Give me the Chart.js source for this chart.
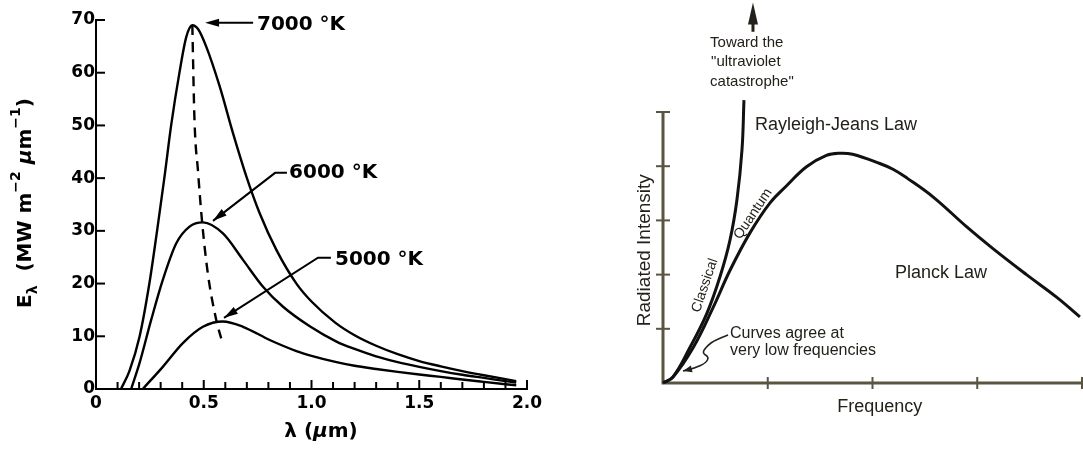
<!DOCTYPE html>
<html>

<head>
    <meta charset="UTF-8">
    <title>Blackbody radiation curves</title>
    <script src="https://cdn.jsdelivr.net/npm/chart.js"></script>
    <style>
        html, body {
            margin: 0;
            padding: 0;
            background: #ffffff;
        }

        body {
            width: 1083px;
            height: 449px;
            position: relative;
            overflow: hidden;
        }

        /* two panels side by side */
        #leftBox {
            position: absolute;
            left: 0;
            top: 0;
        }

        #rightBox {
            position: absolute;
            left: 583px;
            top: 0;
        }
    </style>
</head>

<body>
    <div id="leftBox"><canvas id="leftChart" width="560" height="449"></canvas></div>
    <div id="rightBox"><canvas id="rightChart" width="500" height="449"></canvas></div>

    <script>
        // ---- left panel: spectral exitance E_lambda (MW m^-2 um^-1) vs wavelength (um)
        var lam7000 = [0.116, 0.155, 0.202, 0.248, 0.284, 0.318, 0.349, 0.388, 0.419, 0.447, 0.475, 0.512, 0.574, 0.636, 0.698, 0.76, 0.837, 0.93, 1.0, 1.11, 1.2, 1.3, 1.4, 1.5, 1.6, 1.7, 1.8, 1.95];
        var e7000 = [0, 3.4, 9.9, 20.1, 30.2, 40.3, 50.1, 60.2, 66.8, 69.0, 68.2, 64.9, 57.4, 48.5, 40.3, 33.3, 26.4, 20.0, 16.6, 12.6, 10.2, 8.2, 6.6, 5.3, 4.3, 3.4, 2.6, 1.5];

        var lam6000 = [0.163, 0.202, 0.256, 0.31, 0.372, 0.434, 0.496, 0.589, 0.682, 0.775, 0.868, 0.992, 1.116, 1.2, 1.3, 1.4, 1.5, 1.6, 1.7, 1.8, 1.95];
        var e6000 = [0, 4.9, 13.1, 20.7, 27.6, 30.8, 31.6, 29.5, 24.5, 19.4, 15.6, 11.9, 9.0, 7.6, 6.2, 5.1, 4.2, 3.4, 2.7, 2.1, 1.2];

        var lam5000 = [0.217, 0.31, 0.403, 0.496, 0.589, 0.682, 0.806, 0.93, 1.0, 1.116, 1.2, 1.3, 1.4, 1.5, 1.6, 1.7, 1.8, 1.95];
        var e5000 = [0, 4.2, 8.7, 11.8, 12.8, 11.8, 9.3, 7.2, 6.3, 5.1, 4.4, 3.8, 3.25, 2.75, 2.3, 1.8, 1.35, 0.7];

        // dashed line through the peaks
        var peakLam = [0.447, 0.457, 0.473, 0.493, 0.519, 0.558, 0.581];
        var peakE = [69.0, 51.0, 41.5, 31.4, 21.9, 13.1, 9.6];

        var xTickValues = [0, 0.5, 1.0, 1.5, 2.0];
        var xTickLabels = ['0', '0.5', '1.0', '1.5', '2.0'];
        var tempLabels = ['7000 °K', '6000 °K', '5000 °K'];

        // ---- right panel: radiated intensity vs frequency (arbitrary units)
        var freqPlanck = [0, 0.095, 0.29, 0.48, 0.64, 0.83, 1.02, 1.18, 1.37, 1.56, 1.69, 1.81, 2.07, 2.2, 2.33, 2.58, 2.9, 3.15, 3.47, 3.76, 3.98];
        var intPlanck = [0, 0.11, 0.66, 1.4, 2.08, 2.77, 3.32, 3.64, 3.99, 4.2, 4.24, 4.22, 4.05, 3.94, 3.78, 3.43, 2.88, 2.48, 2.0, 1.58, 1.22];

        var freqRJ = [0, 0.095, 0.258, 0.42, 0.544, 0.64, 0.706, 0.754, 0.773];
        var intRJ = [0, 0.11, 0.66, 1.29, 1.96, 2.64, 3.38, 4.3, 5.22];

        function pairs(xs, ys) {
            var out = [];
            for (var i = 0; i < xs.length; i++) {
                out.push({ x: xs[i], y: ys[i] });
            }
            return out;
        }

        function arrowHead(ctx, x0, y0, x1, y1, len, half) {
            var a = Math.atan2(y1 - y0, x1 - x0);
            ctx.beginPath();
            ctx.moveTo(x1, y1);
            ctx.lineTo(x1 - len * Math.cos(a) + half * Math.sin(a), y1 - len * Math.sin(a) - half * Math.cos(a));
            ctx.lineTo(x1 - len * Math.cos(a) - half * Math.sin(a), y1 - len * Math.sin(a) + half * Math.cos(a));
            ctx.closePath();
            ctx.fill();
        }

        // text made of pieces, for sub/superscripts
        function drawRich(ctx, parts, cx, cy, angle) {
            ctx.save();
            ctx.translate(cx, cy);
            ctx.rotate(angle);
            ctx.textAlign = 'left';
            ctx.textBaseline = 'middle';
            var total = 0;
            parts.forEach(function (p) {
                ctx.font = p.font;
                total += ctx.measureText(p.t).width;
            });
            var xx = -total / 2;
            parts.forEach(function (p) {
                ctx.font = p.font;
                ctx.fillText(p.t, xx, p.dy || 0);
                xx += ctx.measureText(p.t).width;
            });
            ctx.restore();
        }

        var LF = 'DejaVu Sans';
        var RF = 'Liberation Sans';

        var leftDecor = {
            id: 'leftDecor',
            afterDraw: function (chart) {
                var ctx = chart.ctx;
                var x = chart.scales.x, y = chart.scales.y;
                var area = chart.chartArea;
                ctx.save();
                ctx.strokeStyle = '#000';
                ctx.fillStyle = '#000';
                ctx.lineWidth = 2;

                // inward tick marks
                x.ticks.forEach(function (t) {
                    if (t.value === 0) return;
                    var px = x.getPixelForValue(t.value);
                    var major = Math.abs(t.value * 2 - Math.round(t.value * 2)) < 1e-6;
                    ctx.beginPath();
                    ctx.moveTo(px, area.bottom);
                    ctx.lineTo(px, area.bottom - (major ? 9 : 7));
                    ctx.stroke();
                });
                y.ticks.forEach(function (t) {
                    if (t.value === 0) return;
                    var py = y.getPixelForValue(t.value);
                    ctx.beginPath();
                    ctx.moveTo(area.left, py);
                    ctx.lineTo(area.left + 9, py);
                    ctx.stroke();
                });

                function P(lx, ly) {
                    return [x.getPixelForValue(lx), y.getPixelForValue(ly)];
                }

                ctx.lineWidth = 2;
                // 7000 K label with arrow pointing at the peak
                var a0 = P(0.729, 69.5), a1 = P(0.506, 69.5);
                ctx.beginPath();
                ctx.moveTo(a0[0], a0[1]);
                ctx.lineTo(a1[0] + 8, a1[1]);
                ctx.stroke();
                arrowHead(ctx, a0[0], a0[1], a1[0], a1[1], 14, 4);

                // 6000 K leader
                var b0 = P(0.886, 41.0), b1 = P(0.831, 41.0), b2 = P(0.543, 31.9);
                ctx.beginPath();
                ctx.moveTo(b0[0], b0[1]);
                ctx.lineTo(b1[0], b1[1]);
                ctx.lineTo(b2[0], b2[1]);
                ctx.stroke();
                arrowHead(ctx, b1[0], b1[1], b2[0], b2[1], 14, 4);

                // 5000 K leader
                var c0 = P(1.09, 24.9), c1 = P(1.03, 24.9), c2 = P(0.594, 13.5);
                ctx.beginPath();
                ctx.moveTo(c0[0], c0[1]);
                ctx.lineTo(c1[0], c1[1]);
                ctx.lineTo(c2[0], c2[1]);
                ctx.stroke();
                arrowHead(ctx, c1[0], c1[1], c2[0], c2[1], 14, 4);

                ctx.font = 'bold 20px "' + LF + '"';
                ctx.textAlign = 'left';
                ctx.textBaseline = 'middle';
                var t7 = P(0.747, 69.1), t6 = P(0.896, 41.0), t5 = P(1.109, 24.5);
                ctx.fillText(tempLabels[0], t7[0], t7[1]);
                ctx.fillText(tempLabels[1], t6[0], t6[1]);
                ctx.fillText(tempLabels[2], t5[0], t5[1]);

                // axis titles
                var big = 'bold 20px "' + LF + '"', small = 'bold 14px "' + LF + '"';
                drawRich(ctx, [
                    { t: 'λ', font: big },
                    { t: ' (', font: big },
                    { t: 'μ', font: 'bold italic 20px "' + LF + '"' },
                    { t: 'm)', font: big }
                ], 321, 432, 0);

                drawRich(ctx, [
                    { t: 'E', font: big },
                    { t: 'λ', font: small, dy: 7 },
                    { t: '  (MW m', font: big },
                    { t: '−2', font: small, dy: -10 },
                    { t: ' ', font: big },
                    { t: 'μ', font: 'bold italic 20px "' + LF + '"' },
                    { t: 'm', font: big },
                    { t: '−1', font: small, dy: -10 },
                    { t: ')', font: big }
                ], 26, 203, -Math.PI / 2);

                ctx.restore();
            }
        };

        var leftChart = new Chart(document.getElementById('leftChart'), {
            type: 'scatter',
            data: {
                datasets: [
                    { data: pairs(lam7000, e7000), borderColor: '#000', borderWidth: 2.4 },
                    { data: pairs(lam6000, e6000), borderColor: '#000', borderWidth: 2.4 },
                    { data: pairs(lam5000, e5000), borderColor: '#000', borderWidth: 2.4 },
                    { data: pairs(peakLam, peakE), borderColor: '#000', borderWidth: 2.4, borderDash: [10, 7] }
                ]
            },
            options: {
                responsive: false,
                animation: false,
                showLine: true,
                layout: { padding: { top: 20, right: 33, left: 0, bottom: 0 } },
                elements: {
                    point: { radius: 0 },
                    line: { cubicInterpolationMode: 'monotone', fill: false }
                },
                plugins: { legend: { display: false }, tooltip: { enabled: false } },
                scales: {
                    x: {
                        type: 'linear',
                        min: 0,
                        max: 2,
                        afterFit: function (s) { s.height = 60; },
                        grid: { display: false, drawTicks: false },
                        border: { display: true, color: '#000', width: 2 },
                        ticks: {
                            stepSize: 0.1,
                            maxTicksLimit: 30,
                            autoSkip: false,
                            maxRotation: 0,
                            padding: 4,
                            color: '#000',
                            font: { family: LF, size: 17, weight: 'bold' },
                            callback: function (v) {
                                for (var i = 0; i < xTickValues.length; i++) {
                                    if (Math.abs(v - xTickValues[i]) < 1e-6) return xTickLabels[i];
                                }
                                return '';
                            }
                        }
                    },
                    y: {
                        min: 0,
                        max: 70,
                        afterFit: function (s) { s.width = 96; },
                        grid: { display: false, drawTicks: false },
                        border: { display: true, color: '#000', width: 2 },
                        ticks: {
                            stepSize: 10,
                            padding: 1,
                            color: '#000',
                            font: { family: LF, size: 17, weight: 'bold' }
                        }
                    }
                }
            },
            plugins: [leftDecor]
        });

        var rightDecor = {
            id: 'rightDecor',
            beforeDatasetsDraw: function (chart) {
                var ctx = chart.ctx;
                var x = chart.scales.x, y = chart.scales.y;
                var ox = x.getPixelForValue(0), oy = y.getPixelForValue(0);
                ctx.save();
                ctx.strokeStyle = '#5a5442';
                ctx.lineWidth = 3;
                ctx.beginPath();
                ctx.moveTo(ox, y.getPixelForValue(5));
                ctx.lineTo(ox, oy);
                ctx.lineTo(x.getPixelForValue(4) + 2, oy);
                ctx.stroke();
                ctx.lineWidth = 2;
                for (var i = 1; i <= 5; i++) {
                    var py = y.getPixelForValue(i);
                    ctx.beginPath();
                    ctx.moveTo(ox - 7, py);
                    ctx.lineTo(ox + 7, py);
                    ctx.stroke();
                }
                for (var j = 1; j <= 4; j++) {
                    var px = x.getPixelForValue(j);
                    ctx.beginPath();
                    ctx.moveTo(px, oy - 6);
                    ctx.lineTo(px, oy + 6);
                    ctx.stroke();
                }
                ctx.restore();
            },
            afterDraw: function (chart) {
                var ctx = chart.ctx;
                var x = chart.scales.x, y = chart.scales.y;
                function P(fx, fy) {
                    return [x.getPixelForValue(fx), y.getPixelForValue(fy)];
                }
                ctx.save();
                ctx.fillStyle = '#24211b';
                ctx.strokeStyle = '#24211b';

                // arrow toward the ultraviolet catastrophe
                var u0 = P(0.859, 6.48), u1 = P(0.859, 7.02);
                ctx.lineWidth = 3;
                ctx.beginPath();
                ctx.moveTo(u0[0], u0[1]);
                ctx.lineTo(u1[0], u1[1] + 10);
                ctx.stroke();
                arrowHead(ctx, u0[0], u0[1], u1[0], u1[1], 22, 5);

                ctx.textAlign = 'left';
                ctx.textBaseline = 'middle';
                ctx.font = '15px "' + RF + '"';
                var q = P(0.449, 6.27);
                ctx.fillText('Toward the', q[0], q[1]);
                q = P(0.459, 5.92);
                ctx.fillText('"ultraviolet', q[0], q[1]);
                q = P(0.449, 5.55);
                ctx.fillText('catastrophe"', q[0], q[1]);

                ctx.font = '18px "' + RF + '"';
                q = P(0.878, 4.76);
                ctx.fillText('Rayleigh-Jeans Law', q[0], q[1]);
                q = P(2.215, 2.03);
                ctx.fillText('Planck Law', q[0], q[1]);

                ctx.font = '16px "' + RF + '"';
                q = P(0.64, 0.92);
                ctx.fillText('Curves agree at', q[0], q[1]);
                q = P(0.64, 0.59);
                ctx.fillText('very low frequencies', q[0], q[1]);

                ctx.textAlign = 'center';
                ctx.font = '18px "' + RF + '"';
                q = P(2.07, -0.44);
                ctx.fillText('Frequency', q[0], q[1]);

                // rotated labels
                function rotText(txt, font, fx, fy, deg) {
                    var r = P(fx, fy);
                    ctx.save();
                    ctx.translate(r[0], r[1]);
                    ctx.rotate(deg * Math.PI / 180);
                    ctx.font = font;
                    ctx.textAlign = 'center';
                    ctx.textBaseline = 'middle';
                    ctx.fillText(txt, 0, 0);
                    ctx.restore();
                }
                rotText('Radiated Intensity', '19px "' + RF + '"', -0.172, 2.45, -90);
                rotText('Classical', '14px "' + RF + '"', 0.40, 1.80, -71);
                rotText('Quantum', '14px "' + RF + '"', 0.86, 3.12, -56);

                // squiggly pointer to the origin
                var sq = [P(0.621, 0.886), P(0.496, 0.793), P(0.42, 0.683), P(0.372, 0.554), P(0.439, 0.48), P(0.41, 0.369), P(0.305, 0.277), P(0.191, 0.221)];
                ctx.lineWidth = 1.6;
                ctx.beginPath();
                ctx.moveTo(sq[0][0], sq[0][1]);
                for (var i = 1; i < sq.length - 1; i++) {
                    var mx = (sq[i][0] + sq[i + 1][0]) / 2, my = (sq[i][1] + sq[i + 1][1]) / 2;
                    ctx.quadraticCurveTo(sq[i][0], sq[i][1], mx, my);
                }
                ctx.lineTo(sq[sq.length - 1][0], sq[sq.length - 1][1]);
                ctx.stroke();
                arrowHead(ctx, sq[sq.length - 2][0], sq[sq.length - 2][1], sq[sq.length - 1][0], sq[sq.length - 1][1], 9, 3.5);

                ctx.restore();
            }
        };

        var rightChart = new Chart(document.getElementById('rightChart'), {
            type: 'scatter',
            data: {
                datasets: [
                    { data: pairs(freqPlanck, intPlanck), borderColor: '#111', borderWidth: 3 },
                    { data: pairs(freqRJ, intRJ), borderColor: '#111', borderWidth: 3, clip: false }
                ]
            },
            options: {
                responsive: false,
                animation: false,
                showLine: true,
                layout: { padding: { top: 112, right: 1, left: 80, bottom: 66 } },
                elements: {
                    point: { radius: 0 },
                    line: { tension: 0.4, fill: false }
                },
                plugins: { legend: { display: false }, tooltip: { enabled: false } },
                scales: {
                    x: { type: 'linear', min: 0, max: 4, display: false },
                    y: { min: 0, max: 5, display: false }
                }
            },
            plugins: [rightDecor]
        });
    </script>
</body>

</html>
